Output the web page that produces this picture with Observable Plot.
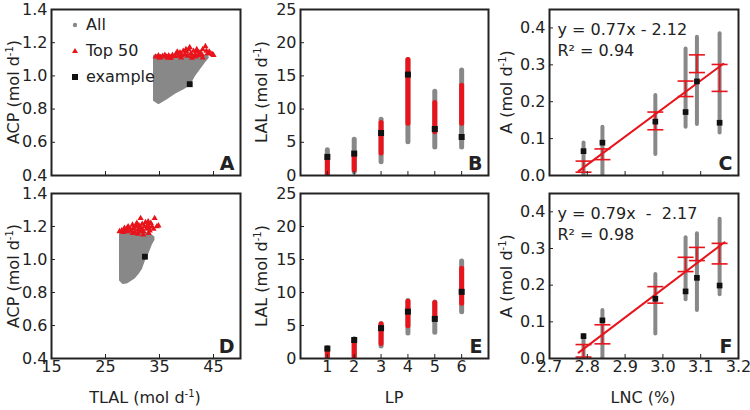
<!DOCTYPE html>
<html><head><meta charset="utf-8">
<script src="https://cdn.jsdelivr.net/npm/d3@7"></script>
<script src="https://cdn.jsdelivr.net/npm/@observablehq/plot@0.6"></script>
<style>
body{margin:0;background:#fff;}
#root{position:relative;width:750px;height:410px;background:#fff;font-family:"DejaVu Sans",sans-serif;color:#222;}
#root svg{position:absolute;overflow:visible;}
.lab{position:absolute;white-space:nowrap;font-size:16px;line-height:16px;transform:translate(-50%,-50%);}
.rot{transform:translate(-50%,-50%) rotate(-90deg);}
.lab sup{font-size:10px;line-height:0;vertical-align:6px;}
.leg{position:absolute;font-size:16px;line-height:16px;white-space:nowrap;}
</style></head>
<body><div id="root"></div>
<script>
// ---------- Data ----------
// Panel A (top) and D (bottom): TLAL vs ACP
const cloudA_tlal = [34.26, 34.87, 36.11, 37.96, 39.2, 40.43, 41.36, 42.28, 43.2, 43.83];
const cloudA_lo   = [0.854, 0.840, 0.864, 0.904, 0.924, 0.948, 1.004, 1.045, 1.085, 1.109];
const cloudA_hi   = [1.115, 1.115, 1.115, 1.115, 1.115, 1.115, 1.115, 1.115, 1.115, 1.112];
const topA_tlal = [34.3,34.8,35.2,35.6,36.0,36.3,36.7,37.1,37.4,37.8,38.1,38.5,38.8,39.1,39.4,39.7,40.0,40.2,40.6,40.8,41.0,41.3,41.6,41.9,42.2,42.5,42.8,43.0,43.5,43.7,43.9,44.2,44.5,44.8,45.0,35.0,37.0,39.0,41.0,43.0,38.3,40.4,42.0,36.5,39.9,41.7];
const topA_acp  = [1.115,1.122,1.112,1.12,1.125,1.115,1.122,1.11,1.125,1.118,1.135,1.12,1.14,1.125,1.15,1.13,1.145,1.12,1.172,1.135,1.12,1.15,1.13,1.16,1.125,1.14,1.13,1.16,1.178,1.15,1.135,1.145,1.135,1.13,1.125,1.108,1.108,1.11,1.108,1.11,1.145,1.16,1.148,1.108,1.16,1.115];
const exA_tlal = [40.6], exA_acp = [0.95];

const cloudD_tlal = [27.96, 28.4, 29.0, 29.63, 30.25, 30.87, 31.48, 32.1, 32.7, 33.3, 33.8];
const cloudD_lo   = [0.875, 0.860, 0.865, 0.878, 0.892, 0.915, 0.944, 1.0, 1.04, 1.09, 1.12];
const cloudD_hi   = [1.15, 1.16, 1.16, 1.16, 1.16, 1.16, 1.16, 1.16, 1.15, 1.14, 1.13];
const topD_tlal = [27.6,28.0,28.3,28.7,29.0,29.2,29.5,29.8,30.0,30.2,30.4,30.6,30.8,31.0,31.2,31.5,31.6,31.8,32.0,32.2,32.4,32.6,32.8,33.0,33.2,33.4,33.6,33.9,34.1,34.5,34.8,30.0,31.0,32.0,29.0,33.0,31.5,28.5,30.9,32.9];
const topD_acp  = [1.17,1.175,1.165,1.18,1.17,1.2,1.185,1.175,1.21,1.19,1.165,1.2,1.22,1.18,1.205,1.25,1.19,1.215,1.17,1.2,1.225,1.185,1.21,1.195,1.175,1.22,1.2,1.185,1.25,1.2,1.205,1.16,1.155,1.15,1.19,1.16,1.17,1.19,1.2,1.23];
const exD_tlal = [32.3], exD_acp = [1.017];

// Panels B and E: LAL by LP
const lp = [1, 2, 3, 4, 5, 6];
const allLoB = [0, 0.5, 2.0, 5.0, 4.2, 4.2];
const allHiB = [3.8, 5.4, 8.4, 17.4, 12.6, 15.8];
const topLoB = [0, 0.8, 3.3, 7.8, 6.5, 7.8];
const topHiB = [2.5, 2.8, 7.9, 17.4, 10.9, 13.5];
const exB    = [2.8, 3.3, 6.4, 15.2, 7.0, 5.8];
const allLoE = [0, 0.3, 1.8, 3.8, 3.9, 7.0];
const allHiE = [1.6, 2.9, 5.2, 8.7, 8.5, 14.7];
const topLoE = [0, 0, 2.2, 4.9, 6.0, 8.3];
const topHiE = [1.4, 2.7, 5.2, 8.6, 8.4, 13.6];
const exE    = [1.5, 2.8, 4.6, 7.1, 6.0, 10.1];

// Panels C and F: A by LNC
const lnc = [2.79, 2.84, 2.98, 3.06, 3.09, 3.15];
const allLoC = [0, 0, 0.057, 0.131, 0.138, 0.115];
const allHiC = [0.088, 0.131, 0.217, 0.343, 0.375, 0.384];
const exC    = [0.066, 0.089, 0.146, 0.172, 0.255, 0.143];
const errLoC = [0.009, 0.043, 0.124, 0.214, 0.279, 0.228];
const errHiC = [0.039, 0.072, 0.172, 0.256, 0.327, 0.301];
const fitC_lnc = [2.777, 3.16], fitC_a = [0.012, 0.303];
const allLoF = [0, 0, 0.067, 0.16, 0.131, 0.174];
const allHiF = [0.063, 0.131, 0.229, 0.329, 0.34, 0.38];
const exF    = [0.061, 0.104, 0.163, 0.183, 0.22, 0.199];
const errLoF = [0.004, 0.04, 0.151, 0.237, 0.267, 0.258];
const errHiF = [0.038, 0.092, 0.196, 0.276, 0.303, 0.314];
const fitF_lnc = [2.777, 3.163], fitF_a = [0.016, 0.317];

const ticksACP = [0.4, 0.6, 0.8, 1.0, 1.2, 1.4];
const ticksTLAL = [15, 25, 35, 45];
const ticksLAL = [0, 5, 10, 15, 20, 25];
const ticksA = [0, 0.1, 0.2, 0.3, 0.4];
const ticksLNC = [2.7, 2.8, 2.9, 3.0, 3.1, 3.2];

// ---------- Helpers ----------
const GRAY = "#888888", RED = "#e8141c", INK = "#222";
const zip = (keys, arrays) => arrays[0].map((_, i) => Object.fromEntries(keys.map((k, j) => [k, arrays[j][i]])));
const hbar = {draw(ctx, size) { const r = Math.sqrt(size / Math.PI); ctx.moveTo(-r, 0); ctx.lineTo(r, 0); }};
const root = document.getElementById("root");

const COLS = [{left: 0, ml: 51, mr: 10}, {left: 250, ml: 50, mr: 12}, {left: 500, ml: 49, mr: 12}];
const ROWS = [{top: 0, h: 190, mt: 9, mb: 15}, {top: 184, h: 226, mt: 9, mb: 52}];

function panel(col, row, xOpt, yOpt, xTicks, yTicks, xFmt, yFmt, showX, letter, marks) {
  const C = COLS[col], R = ROWS[row];
  const svg = Plot.plot({
    width: 250, height: R.h,
    marginLeft: C.ml, marginRight: C.mr, marginTop: R.mt, marginBottom: R.mb,
    style: {fontFamily: "DejaVu Sans", fontSize: "16px", color: INK, background: "transparent", overflow: "visible"},
    x: xOpt, y: yOpt,
    marks: [
      ...marks,
      Plot.frame({stroke: INK, strokeWidth: 2}),
      Plot.axisX({ticks: xTicks, tickSize: -4, tickPadding: showX ? 6 : 0, tickFormat: showX ? xFmt : () => "", label: null, stroke: INK, fill: INK}),
      Plot.axisY({ticks: yTicks, tickSize: -4, tickPadding: 8, tickFormat: yFmt, label: null, stroke: INK, fill: INK}),
      Plot.text([letter], {text: d => d, frameAnchor: "bottom-right", dx: -6, dy: -6, lineAnchor: "bottom", textAnchor: "end", fontWeight: "bold", fontSize: 19, fill: INK})
    ]
  });
  svg.style.left = C.left + "px";
  svg.style.top = R.top + "px";
  root.appendChild(svg);
}

const f1 = d3.format(".1f"), f0 = d3.format("d");

// A & D
[[0, cloudA_tlal, cloudA_lo, cloudA_hi, topA_tlal, topA_acp, exA_tlal, exA_acp, "A"],
 [1, cloudD_tlal, cloudD_lo, cloudD_hi, topD_tlal, topD_acp, exD_tlal, exD_acp, "D"]].forEach(([row, cx, clo, chi, tx, ty, ex, ey, L]) => {
  panel(0, row, {domain: [15, 50]}, {domain: [0.4, 1.4]}, ticksTLAL, ticksACP, f0, f1, row === 1, L, [
    Plot.areaY(zip(["x", "lo", "hi"], [cx, clo, chi]), {x: "x", y1: "lo", y2: "hi", fill: GRAY, stroke: GRAY, strokeWidth: 4, strokeLinejoin: "round"}),
    Plot.dot(zip(["x", "y"], [tx, ty]), {x: "x", y: "y", symbol: "triangle", r: 2.3, fill: RED}),
    Plot.dot(zip(["x", "y"], [ex, ey]), {x: "x", y: "y", symbol: "square", r: 3.3, fill: "#111"})
  ]);
});

// B & E
[[0, allLoB, allHiB, topLoB, topHiB, exB, "B"], [1, allLoE, allHiE, topLoE, topHiE, exE, "E"]].forEach(([row, al, ah, tl, th, ex, L]) => {
  const d = zip(["lp", "al", "ah", "tl", "th", "ex"], [lp, al, ah, tl, th, ex]);
  panel(1, row, {domain: [0, 7]}, {domain: [0, 25]}, lp, ticksLAL, f0, f0, row === 1, L, [
    Plot.ruleX(d, {x: "lp", y1: "al", y2: "ah", stroke: GRAY, strokeWidth: 5, strokeLinecap: "round", clip: true}),
    Plot.ruleX(d, {x: "lp", y1: "tl", y2: "th", stroke: RED, strokeWidth: 5, strokeLinecap: "round", clip: true}),
    Plot.dot(d, {x: "lp", y: "ex", symbol: "square", r: 3.4, fill: "#111"})
  ]);
});

// C & F
[[0, allLoC, allHiC, exC, errLoC, errHiC, fitC_lnc, fitC_a, "C", "y = 0.77x - 2.12\nR² = 0.94"],
 [1, allLoF, allHiF, exF, errLoF, errHiF, fitF_lnc, fitF_a, "F", "y = 0.79x \u00a0- \u00a02.17\nR² = 0.98"]].forEach(([row, al, ah, ex, el, eh, fx, fy, L, eq]) => {
  const d = zip(["x", "al", "ah", "ex", "el", "eh"], [lnc, al, ah, ex, el, eh]);
  panel(2, row, {domain: [2.7, 3.2]}, {domain: [0, 0.45]}, ticksLNC, ticksA, f1, f1, row === 1, L, [
    Plot.ruleX(d, {x: "x", y1: "al", y2: "ah", stroke: GRAY, strokeWidth: 4, strokeLinecap: "round", clip: true}),
    Plot.line(zip(["x", "y"], [fx, fy]), {x: "x", y: "y", stroke: RED, strokeWidth: 2}),
    Plot.ruleX(d, {x: "x", y1: "el", y2: "eh", stroke: RED, strokeWidth: 1.6}),
    Plot.dot(d, {x: "x", y: "el", symbol: hbar, r: 8, stroke: RED, strokeWidth: 1.6}),
    Plot.dot(d, {x: "x", y: "eh", symbol: hbar, r: 8, stroke: RED, strokeWidth: 1.6}),
    Plot.dot(d, {x: "x", y: "ex", symbol: "square", r: 3.2, fill: "#111"}),
    Plot.text([eq], {text: t => t, frameAnchor: "top-left", dx: 8, dy: 11, lineAnchor: "top", textAnchor: "start", fontSize: 16, lineHeight: 1.3, fill: INK})
  ]);
});

// ---------- Axis titles (HTML text) ----------
const titles = [
  {html: "ACP (mol d<sup>-1</sup>)", x: 14, y: 92, rot: true},
  {html: "ACP (mol d<sup>-1</sup>)", x: 14, y: 276, rot: true},
  {html: "LAL (mol d<sup>-1</sup>)", x: 262, y: 92, rot: true},
  {html: "LAL (mol d<sup>-1</sup>)", x: 262, y: 276, rot: true},
  {html: "A (mol d<sup>-1</sup>)", x: 507, y: 92, rot: true},
  {html: "A (mol d<sup>-1</sup>)", x: 507, y: 276, rot: true},
  {html: "TLAL (mol d<sup>-1</sup>)", x: 145, y: 398},
  {html: "LP", x: 394, y: 398},
  {html: "LNC (%)", x: 643, y: 398}
];
titles.forEach(t => {
  const el = document.createElement("div");
  el.className = "lab" + (t.rot ? " rot" : "");
  el.innerHTML = t.html;
  el.style.left = t.x + "px"; el.style.top = t.y + "px";
  root.appendChild(el);
});

// ---------- Legend in panel A ----------
const legend = [
  {label: "All", sym: '<circle cx="6" cy="6" r="2.2" fill="' + GRAY + '"/>', y: 25},
  {label: "Top 50", sym: '<path d="M6,3 L9,8 L3,8Z" fill="' + RED + '"/>', y: 51},
  {label: "example", sym: '<rect x="3" y="3" width="6" height="6" fill="#111"/>', y: 77}
];
legend.forEach(l => {
  const el = document.createElement("div");
  el.className = "leg";
  el.style.left = "69px"; el.style.top = (l.y - 8) + "px";
  el.innerHTML = '<svg width="12" height="12" style="position:relative;vertical-align:middle;top:-1px;overflow:visible">' + l.sym + '</svg><span style="margin-left:5px">' + l.label + '</span>';
  root.appendChild(el);
});
</script></body></html>
